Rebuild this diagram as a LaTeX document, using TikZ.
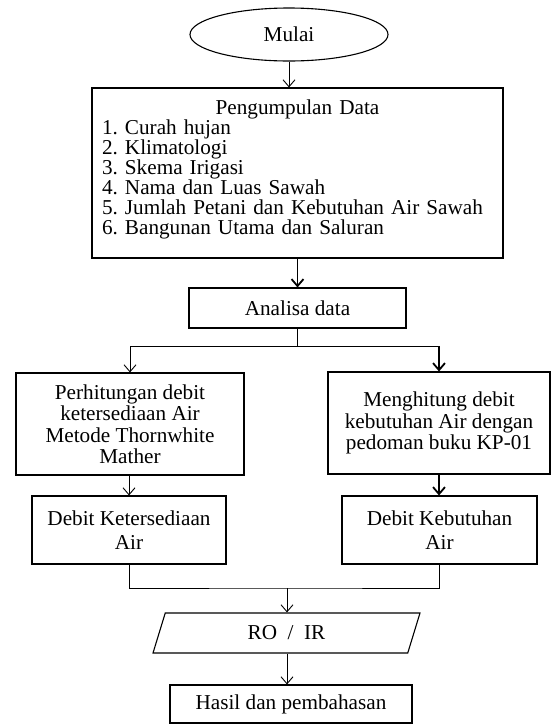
\documentclass[tikz,border=0pt]{standalone}
\usepackage{fontspec}
\setmainfont{Liberation Serif}
\usetikzlibrary{shapes.geometric,arrows.meta}
\frenchspacing

\tikzset{
  kotak/.style={draw, line width=1.1pt, inner sep=0pt, align=center},
  panah/.style={-{Straight Barb[length=7pt,width=12pt]}, line width=0.9pt},
  panahtebal/.style={panah, line width=1.8pt},
}

\begin{document}
\begin{tikzpicture}[x=1pt, y=-1pt, font=\fontsize{21.2}{21.5}\selectfont]
  \useasboundingbox (0,0) rectangle (551,724);
  % mulai
  \node [kotak, ellipse, minimum width=198pt, minimum height=53pt]
    (mulai) at (289,34.5) {Mulai};
  % pengumpulan data
  \node [kotak, align=left, text width=391pt, minimum width=411pt,
    minimum height=170pt, font=\fontsize{21.2}{20}\selectfont]
    (data) at (297.5,173) {\makebox[391pt]{Pengumpulan Data}\\
    1. Curah hujan\\
    2. Klimatologi\\
    3. Skema Irigasi\\
    4. Nama dan Luas Sawah\\
    5. Jumlah Petani dan Kebutuhan Air Sawah\\
    6. Bangunan Utama dan Saluran\rule[-12pt]{0pt}{12pt}};
  \node [kotak, minimum width=217pt, minimum height=40pt]
    (analisa) at (297.5,308) {Analisa data};
  % dua cabang
  \node [kotak, minimum width=228pt, minimum height=102pt]
    (hitung1) at (130,424) {Perhitungan debit\\ ketersediaan Air\\
    Metode Thornwhite\\ Mather};
  \node [kotak, minimum width=222pt, minimum height=102pt]
    (hitung2) at (439,423) {Menghitung debit\\ kebutuhan Air dengan\\
    pedoman buku KP-01};
  \node [kotak, minimum width=194pt, minimum height=68pt,
    font=\fontsize{21.2}{23.5}\selectfont]
    (debit1) at (129,530) {Debit Ketersediaan\\ Air};
  \node [kotak, minimum width=195pt, minimum height=68pt,
    font=\fontsize{21.2}{23.5}\selectfont]
    (debit2) at (439.5,530) {Debit Kebutuhan\\ Air};
  % hasil
  \node [kotak, trapezium, trapezium left angle=74.6,
    trapezium right angle=105.4, trapezium stretches=true,
    minimum width=269pt, minimum height=40pt]
    (ro) at (286.5,633) {RO \ / \ IR};
  \node [kotak, minimum width=242pt, minimum height=38pt]
    (hasil) at (291,704) {Hasil dan pembahasan};
  % panah
  \coordinate (cabang) at (297.5,346);
  \coordinate (gabung) at (287,588);
  \draw [panah] (mulai.south) -- (mulai.south |- data.north);
  \draw [panahtebal] (data.south) -- (analisa.north);
  \draw [line width=0.9pt] (analisa.south) -- (cabang);
  \draw [line width=0.9pt] (hitung1.north |- cabang) -- (hitung2.north |- cabang);
  \draw [panah] (hitung1.north |- cabang) -- (hitung1.north);
  \draw [panahtebal] (hitung2.north |- cabang) -- (hitung2.north);
  \draw [panah] (debit1.north |- hitung1.south) -- (debit1.north);
  \draw [panahtebal] (hitung2.south) -- (hitung2.south |- debit2.north);
  \draw [line width=0.9pt] (debit1.south) |- (gabung) -| (debit2.south);
  \draw [panah] (gabung) -- (gabung |- ro.north);
  \draw [panah] (gabung |- ro.south) -- (gabung |- hasil.north);
\end{tikzpicture}
\end{document}
